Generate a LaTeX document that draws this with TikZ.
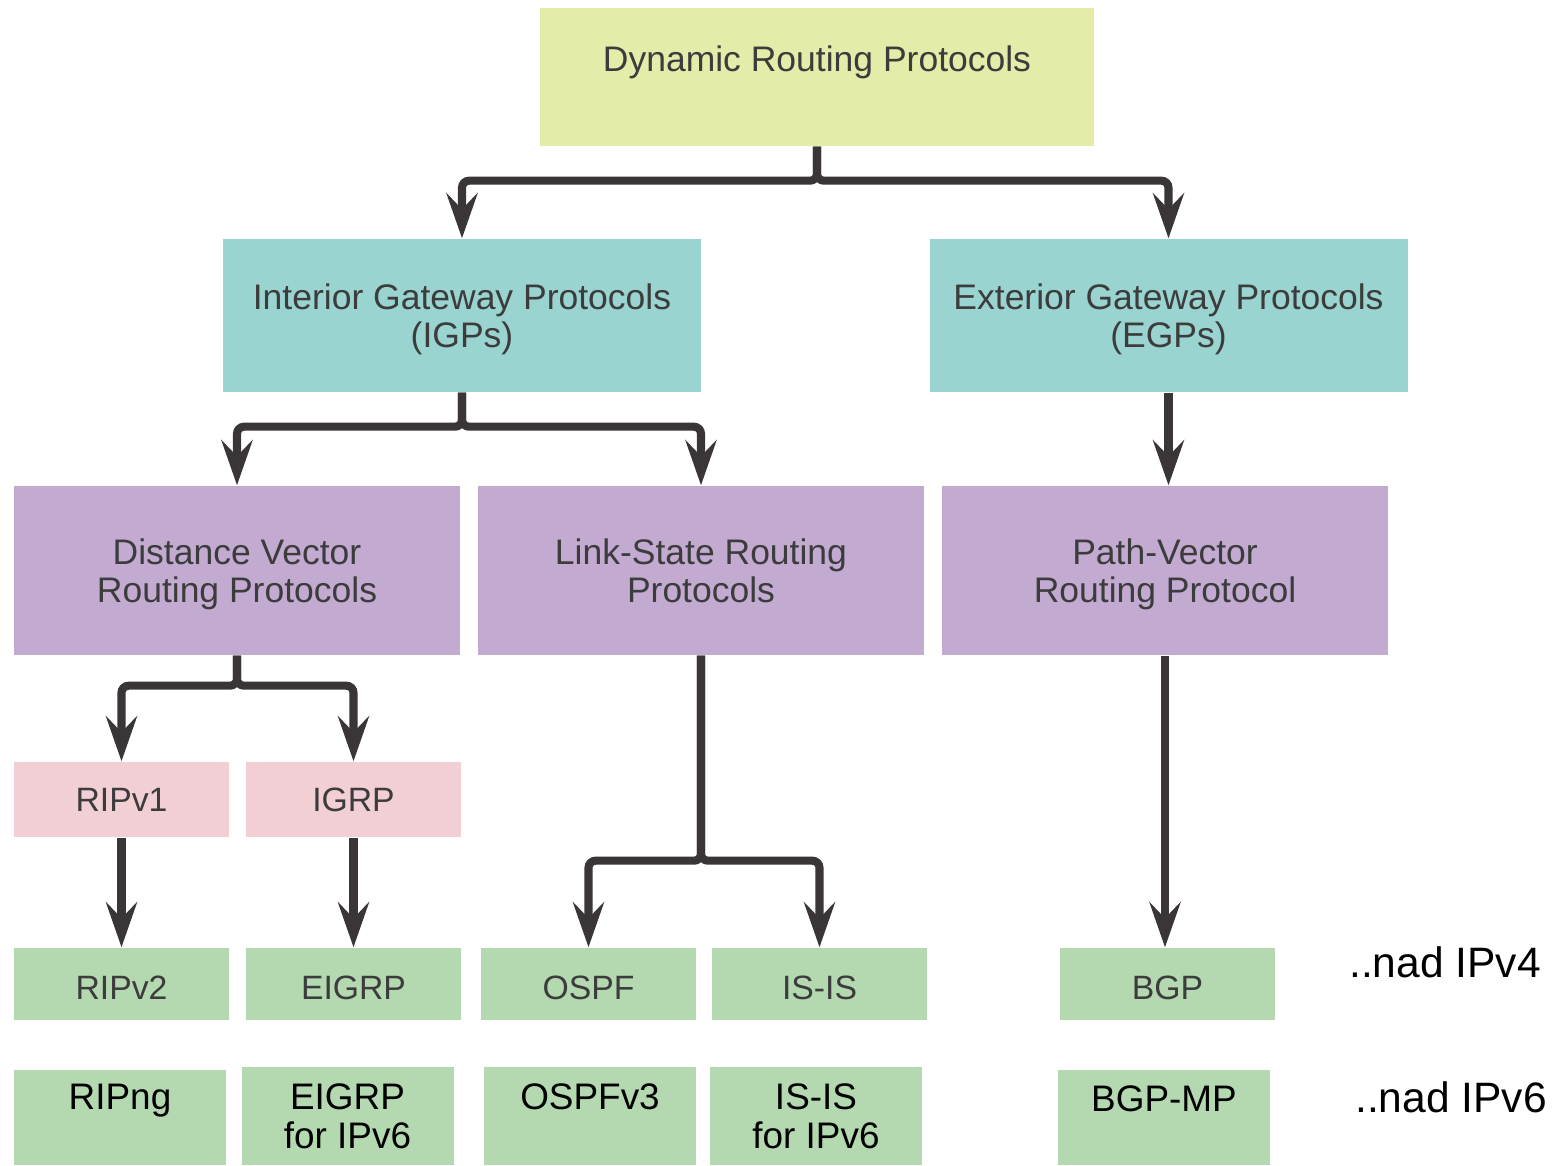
\documentclass[tikz,border=0pt]{standalone}
\usepackage{fontspec}
\setmainfont{Liberation Sans}
\usepackage{tikz}
\usetikzlibrary{arrows.meta, positioning}
\definecolor{rootyellow}{RGB}{229, 235, 168}
\definecolor{gwteal}{RGB}{154, 212, 209}
\definecolor{familypurple}{RGB}{195, 170, 209}
\definecolor{oldpink}{RGB}{242, 206, 213}
\definecolor{protogreen}{RGB}{180, 217, 177}
\definecolor{arrowgray}{RGB}{58, 53, 54}
\definecolor{labelgray}{RGB}{60, 60, 60}

\begin{document}
\begin{tikzpicture}[
  every node/.style={font=\fontsize{10.1}{10.8}\selectfont, text=labelgray, align=center, inner sep=0pt},
  rootbox/.style={fill=rootyellow, minimum width=5.54cm, minimum height=1.38cm, text depth=0.37cm},
  gwbox/.style={fill=gwteal, minimum width=4.78cm, minimum height=1.53cm, text depth=0pt},
  familybox/.style={fill=familypurple, minimum width=4.46cm, minimum height=1.69cm, text depth=0pt},
  oldbox/.style={fill=oldpink, minimum width=2.15cm, minimum height=0.75cm, font=\fontsize{9.6}{10.4}\selectfont},
  v4box/.style={fill=protogreen, minimum width=2.15cm, minimum height=0.72cm, text height=0.30cm, text depth=0pt, font=\fontsize{9.6}{10.4}\selectfont},
  v6box/.style={fill=protogreen, minimum width=2.12cm, minimum height=0.98cm, text=black, font=\fontsize{10.5}{11.1}\selectfont},
  lifted/.style={text depth=#1},
  note/.style={text=black, font=\fontsize{12.1}{13}\selectfont},
  arrow/.style={-{Stealth[length=4.5mm, width=3.1mm, inset=1.6mm]}, line width=2.3pt, draw=arrowgray, rounded corners=2pt}
]
  \useasboundingbox (0, 0) rectangle (15.52, 11.65);

  % Wurzel und Gateway-Ebene
  \node[rootbox] (root) at (8.17, 10.88) {Dynamic Routing Protocols};
  \node[gwbox] (igp) at (4.62, 8.495) {Interior Gateway Protocols\\(IGPs)};
  \node[gwbox] (egp) at (11.685, 8.495) {Exterior Gateway Protocols\\(EGPs)};

  % Protokollfamilien
  \node[familybox] (dv) at (2.37, 5.945) {Distance Vector\\Routing Protocols};
  \node[familybox] (ls) at (7.01, 5.945) {Link-State Routing\\Protocols};
  \node[familybox] (pv) at (11.65, 5.945) {Path-Vector\\Routing Protocol};

  \node[oldbox] (ripv1) at (1.215, 3.655) {RIPv1};
  \node[oldbox] (igrp) at (3.535, 3.655) {IGRP};

  % IPv4
  \node[v4box] (ripv2) at (1.215, 1.81) {RIPv2};
  \node[v4box] (eigrp) at (3.535, 1.81) {EIGRP};
  \node[v4box] (ospf) at (5.885, 1.81) {OSPF};
  \node[v4box] (isis) at (8.195, 1.81) {IS-IS};
  \node[v4box] (bgp) at (11.675, 1.81) {BGP};
  \node[note] (nadv4) at (14.45, 2.03) {..nad IPv4};

  % IPv6
  \node[v6box, minimum height=0.95cm, lifted=0.42cm] (ripng) at (1.20, 0.475) {RIPng};
  \node[v6box] (eigrpsix) at (3.475, 0.49) {EIGRP\\for IPv6};
  \node[v6box, lifted=0.38cm] (ospfv3) at (5.90, 0.49) {OSPFv3};
  \node[v6box] (isissix) at (8.16, 0.49) {IS-IS\\for IPv6};
  \node[v6box, minimum height=0.95cm, lifted=0.38cm] (bgpmp) at (11.64, 0.475) {BGP-MP};
  \node[note] (nadv6) at (14.51, 0.68) {..nad IPv6};

  \draw[arrow] (root.south) -- ++(0, -0.34) -| (igp.north);
  \draw[arrow] (root.south) -- ++(0, -0.34) -| (egp.north);
  \draw[arrow] (igp.south) -- ++(0, -0.34) -| (dv.north);
  \draw[arrow] (igp.south) -- ++(0, -0.34) -| (ls.north);
  \draw[arrow] (egp.south) -- (egp.south |- pv.north);
  \draw[arrow] (dv.south) -- ++(0, -0.30) -| (ripv1.north);
  \draw[arrow] (dv.south) -- ++(0, -0.30) -| (igrp.north);
  \draw[arrow] (ripv1) -- (ripv2);
  \draw[arrow] (igrp) -- (eigrp);
  \draw[arrow] (ls.south) -- ++(0, -2.05) -| (ospf.north);
  \draw[arrow] (ls.south) -- ++(0, -2.05) -| (isis.north);
  \draw[arrow] (pv.south) -- (pv.south |- bgp.north);

\end{tikzpicture}
\end{document}
